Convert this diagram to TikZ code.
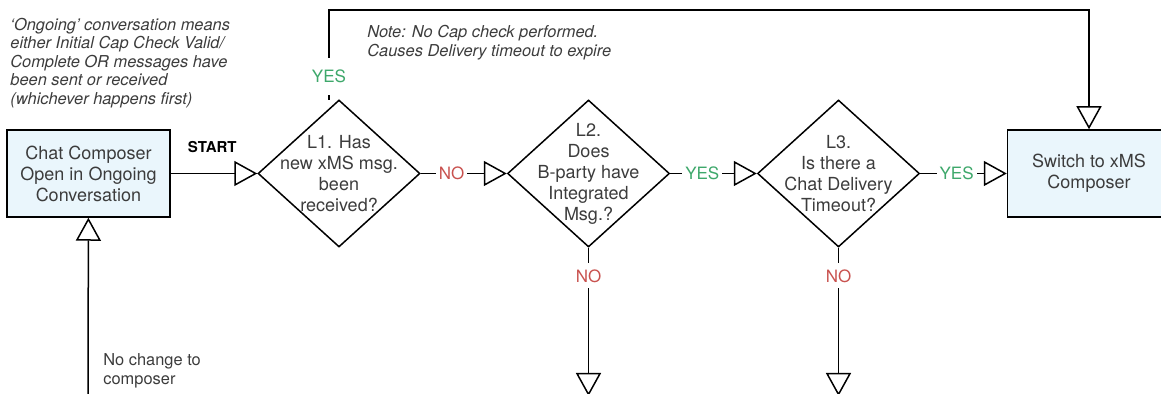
\documentclass[tikz,border=0pt]{standalone}
\usepackage{fontspec}
\setmainfont{TeX Gyre Heros}
\usetikzlibrary{shapes.geometric,arrows.meta}
\definecolor{boxblue}{HTML}{EAF6FC}
\definecolor{nored}{HTML}{C9524F}
\definecolor{yesgreen}{HTML}{3EA86B}
\definecolor{txtgray}{HTML}{3C3C3C}

\begin{document}
\begin{tikzpicture}[x=0.5pt, y=-0.5pt, text=txtgray,
  font=\fontsize{9}{10.5}\selectfont,
  composer/.style={draw, line width=0.75pt, fill=boxblue, minimum width=81.5pt, minimum height=43.5pt, align=center, inner sep=0pt},
  decision/.style={draw, diamond, line width=0.75pt, minimum width=81pt, minimum height=73.5pt, inner sep=0pt},
  question/.style={align=center, inner sep=0pt},
  flow/.style={line width=0.75pt, -{Triangle[open, length=11.5pt, width=12.5pt]}},
  yeslbl/.style={fill=white, text=yesgreen, font=\fontsize{8.5}{9}\selectfont, inner xsep=1.5pt, inner ysep=3pt},
  nolbl/.style={yeslbl, text=nored},
  startlbl/.style={text=black, font=\bfseries\fontsize{7.5}{9}\selectfont, inner sep=0pt},
  note/.style={align=left, font=\fontsize{8.2}{9.25}\selectfont\itshape, inner sep=0pt}]
\useasboundingbox (0,0) rectangle (1161,394);
\clip (0,0) rectangle (1161,394);

\node[composer] (chat) at (88.5,173.5) {Chat Composer\\Open in Ongoing\\Conversation};
\node[decision] (l1) at (339,173.5) {};
\node[decision] (l2) at (588.5,173.5) {};
\node[decision] (l3) at (838.5,173.5) {};
\node[composer] (xms) at (1089,173.5) {Switch to xMS\\Composer};
\node[question] (l1q) at (l1) {L1. Has\\new xMS msg.\\been\\received?};
\node[question] (l2q) at (l2) {L2.\\Does\\B-party have\\Integrated\\Msg.?};
\node[question] (l3q) at (l3) {L3.\\Is there a\\Chat Delivery\\Timeout?};

\coordinate (yesout) at (329,100);
\coordinate (looptop) at (329,10);
\coordinate (l2out) at (588.5,396);
\coordinate (l3out) at (838.5,396);
\coordinate (nochg) at (88,400);

\draw[flow] (chat) -- node[startlbl, above=10pt, pos=0.48] {START} (l1);
\draw[flow] (l1) -- node[nolbl, pos=0.36] {NO} (l2);
\draw[flow] (l2) -- node[yeslbl, pos=0.37] {YES} (l3);
\draw[flow] (l3) -- node[yeslbl, pos=0.42] {YES} (xms);
\draw[flow] (l2) -- node[nolbl, pos=0.19] {NO} (l2out);
\draw[flow] (l3) -- node[nolbl, pos=0.19] {NO} (l3out);
\draw[flow] (yesout) -- node[yeslbl, inner ysep=6pt, pos=0.26] {YES} (looptop) -| (xms);
\draw[flow] (nochg) -- (chat);

\node[note, anchor=west] (ongoing) at (10,63) {‘Ongoing’ conversation means\\either Initial Cap Check Valid/\\Complete OR messages have\\been sent or received\\(whichever happens first)};
\node[note, anchor=west] (capnote) at (367,42.5) {Note: No Cap check performed.\\Causes Delivery timeout to expire};
\node[note, font=\fontsize{8.2}{9.25}\selectfont, anchor=west] (nochgtext) at (103,371) {No change to\\composer};
\end{tikzpicture}
\end{document}
